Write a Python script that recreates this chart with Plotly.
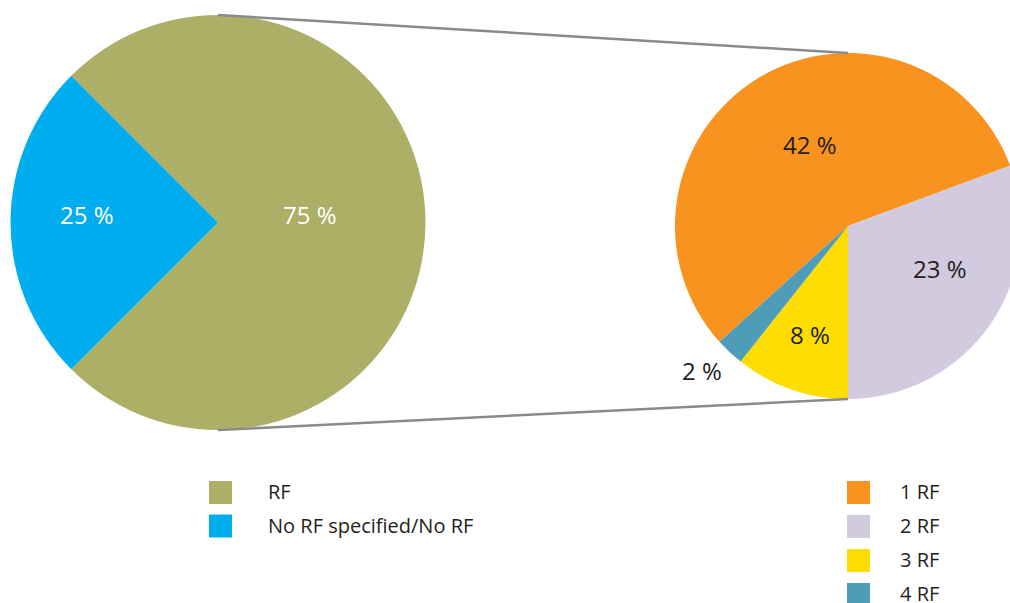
import math
import plotly.graph_objects as go

# Overall split of records
main_labels = ["RF", "No RF specified/No RF"]
main_values = [75, 25]
main_colors = ["#ADAF67", "#00AEEF"]

# Breakdown of the RF share by number of risk factors
sub_labels = ["1 RF", "2 RF", "3 RF", "4 RF"]
sub_values = [42, 23, 8, 2]
sub_colors = ["#F7931E", "#D2CADF", "#FFDD00", "#4F9CB8"]

W, H = 1100, 603          # figure canvas (right pie runs past the visible edge)
FONT = "Open Sans"
DARK = "#231F20"

# pie geometry in pixels: centre x, centre y, radius, start angle (deg, clockwise from 12 o'clock)
main_geo = dict(cx=218, cy=222.5, r=207.5, rot=-45)
sub_geo = dict(cx=848, cy=226, r=173, rot=-132)

# placement of each percentage label: (fraction of radius, turn from slice mid-angle in deg)
main_label_pos = [(0.444, -4.0), (0.632, 2.8)]
sub_label_pos = [(0.507, 5.5), (0.59, -9.2), (0.678, -0.3), (1.194, 1.8)]
main_label_color = ["white", "white"]
sub_label_color = [DARK, DARK, DARK, DARK]


def domain(g):
    return dict(
        x=[(g["cx"] - g["r"]) / W, (g["cx"] + g["r"]) / W],
        y=[1 - (g["cy"] + g["r"]) / H, 1 - (g["cy"] - g["r"]) / H],
    )


def px(x, y):
    return x / W, 1 - y / H


fig = go.Figure()
for labels, values, colors, g in [
    (main_labels, main_values, main_colors, main_geo),
    (sub_labels, sub_values, sub_colors, sub_geo),
]:
    fig.add_trace(go.Pie(
        labels=labels, values=values, sort=False, direction="clockwise",
        rotation=g["rot"], domain=domain(g), textinfo="none",
        marker=dict(colors=colors, line=dict(width=0)),
        showlegend=False, hoverinfo="label+value",
    ))

annotations = []
shapes = []

# percentage labels placed around each slice's mid-angle
for values, g, pos, cols in [
    (main_values, main_geo, main_label_pos, main_label_color),
    (sub_values, sub_geo, sub_label_pos, sub_label_color),
]:
    total = sum(values)
    start = g["rot"]
    for v, (f, turn), c in zip(values, pos, cols):
        mid = math.radians(start + 360 * v / total / 2 + turn)
        x = g["cx"] + f * g["r"] * math.sin(mid)
        y = g["cy"] - f * g["r"] * math.cos(mid) - 2
        ax, ay = px(x, y)
        annotations.append(dict(
            x=ax, y=ay, xref="paper", yref="paper", showarrow=False,
            text=f"{v} %", font=dict(family=FONT, size=24, color=c),
            xanchor="center", yanchor="middle",
        ))
        start += 360 * v / total

# connector lines from the main pie to the breakdown pie
for sign in (-1, 1):
    x0, y0 = px(main_geo["cx"], main_geo["cy"] + sign * main_geo["r"])
    x1, y1 = px(sub_geo["cx"], sub_geo["cy"] + sign * sub_geo["r"])
    shapes.append(dict(type="line", xref="paper", yref="paper",
                       x0=x0, y0=y0, x1=x1, y1=y1,
                       line=dict(color="#8A8A8C", width=2.5)))


# legends drawn as colour swatches with text
def legend(labels, colors, sx, tx, top, step):
    for i, (lab, col) in enumerate(zip(labels, colors)):
        y0 = top + i * step
        a0, b0 = px(sx, y0)
        a1, b1 = px(sx + 23, y0 + 23)
        shapes.append(dict(type="rect", xref="paper", yref="paper",
                           x0=a0, y0=b1, x1=a1, y1=b0,
                           fillcolor=col, line=dict(width=0)))
        tx_p, ty_p = px(tx, y0 + 10.5)
        annotations.append(dict(
            x=tx_p, y=ty_p, xref="paper", yref="paper", showarrow=False,
            text=lab, font=dict(family=FONT, size=20, color=DARK),
            xanchor="left", yanchor="middle",
        ))


legend(main_labels, main_colors, 209, 266, 481, 33.5)
legend(sub_labels, sub_colors, 847, 898, 481, 34)

fig.update_layout(
    width=W, height=H, autosize=False,
    margin=dict(l=0, r=0, t=0, b=0),
    paper_bgcolor="white", plot_bgcolor="white",
    annotations=annotations, shapes=shapes,
    font=dict(family=FONT, color=DARK),
)

fig.write_html(
    "out.html",
    post_script="document.body.style.margin='0';"
                "document.body.style.overflow='hidden';"
                "document.documentElement.style.overflow='hidden';",
)
